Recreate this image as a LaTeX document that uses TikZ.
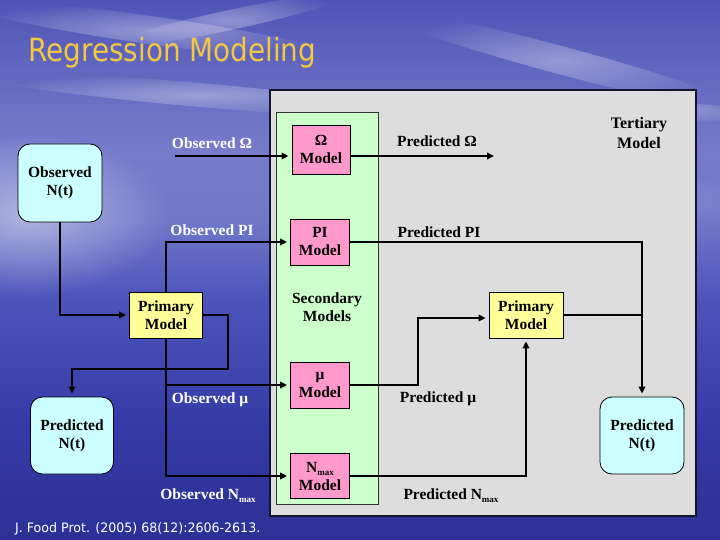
\documentclass[tikz,border=0pt]{standalone}
\usepackage{fontspec}
\setmainfont{Liberation Serif}
\newfontfamily\titlefont{DejaVu Sans}
\usetikzlibrary{arrows.meta,calc,fadings}

\definecolor{skyA}{RGB}{80,84,182}
\definecolor{skyB}{RGB}{118,124,202}
\definecolor{skyC}{RGB}{112,120,200}
\definecolor{seaA}{RGB}{76,84,188}
\definecolor{seaB}{RGB}{52,58,165}
\definecolor{seaC}{RGB}{44,48,150}
\definecolor{panelgray}{RGB}{221,221,221}
\definecolor{panelgreen}{RGB}{204,255,204}
\definecolor{boxpink}{RGB}{255,153,204}
\definecolor{boxyellow}{RGB}{255,255,153}
\definecolor{boxcyan}{RGB}{204,255,255}
\definecolor{titlegold}{RGB}{242,200,64}
\definecolor{panelborder}{RGB}{20,20,50}

\tikzfading[name=softfade, inner color=transparent!0, outer color=transparent!100]

\tikzset{
  lbl/.style={font=\bfseries\fontsize{15.5}{18}\selectfont, align=center, inner sep=0pt},
  wlbl/.style={lbl, text=white},
  boxbase/.style={draw=black, line width=0.8pt, align=center, inner sep=0pt,
    font=\bfseries\fontsize{15.5}{18}\selectfont},
  pinkbox/.style={boxbase, fill=boxpink, minimum width=59pt, minimum height=46pt},
  yelbox/.style={boxbase, fill=boxyellow, minimum width=74pt, minimum height=46pt},
  cyanbox/.style={boxbase, fill=boxcyan, rounded corners=12pt, minimum width=84pt, minimum height=78pt},
  conn/.style={line width=2pt, -{Triangle[length=7pt,width=6.5pt]}, shorten >=3pt},
  plain/.style={line width=2pt},
  cloud/.style={fill=white, opacity=0.35, path fading=softfade, fit fading=true}
}

\begin{document}
\begin{tikzpicture}[x=1pt,y=-1pt]
\useasboundingbox (0,0) rectangle (720,540);
% background
\shade[top color=skyA, bottom color=skyB] (0,0) rectangle (720,150);
\shade[top color=skyB, bottom color=skyC] (0,150) rectangle (720,220);
\shade[top color=skyC, bottom color=seaA] (0,220) rectangle (720,300);
\shade[top color=seaA, bottom color=seaB] (0,300) rectangle (720,430);
\shade[top color=seaB, bottom color=seaC] (0,430) rectangle (720,540.5);
\fill[cloud, rotate around={-8:(150,30)}] (150,30) ellipse (190 and 14);
\fill[cloud, rotate around={12:(230,20)}] (230,20) ellipse (120 and 10);
\fill[cloud, rotate around={-15:(560,60)}] (560,60) ellipse (190 and 14);
\fill[cloud, rotate around={-5:(200,95)}] (200,95) ellipse (220 and 12);
\fill[cloud, rotate around={-3:(640,110)}] (640,110) ellipse (140 and 10);
\fill[cloud, opacity=0.45] (30,215) ellipse (140 and 80);
\fill[cloud, opacity=0.25] (520,200) ellipse (240 and 35);

% title and citation
\node[anchor=base west, text=titlegold] (title) at (25,62)
  {\titlefont\fontsize{32}{36}\selectfont\scalebox{0.87}[1]{Regression Modeling}};
\node[anchor=base west, text=white, inner sep=0pt] (cite) at (15,532)
  {\titlefont\fontsize{13}{15}\selectfont\scalebox{0.97}[1]{J. Food Prot. (2005) 68(12):2606-2613.}};

% panels
\draw[fill=panelgray, draw=panelborder, line width=1.2pt] (270,90) rectangle (696,516);
\draw[fill=panelgreen, draw=black!80, line width=0.8pt] (276,112) rectangle (378,504);

% boxes
\node[pinkbox, minimum width=58pt, minimum height=49pt] (om) at (321,149.5) {Ω\\Model};
\node[pinkbox] (pi) at (320,242) {PI\\Model};
\node[pinkbox] (mu) at (320,385) {μ\\Model};
\node[pinkbox, minimum height=45pt] (nmax) at (320,476)
  {N\raisebox{-3pt}{\fontsize{9}{9}\selectfont max}\\Model};
\node[lbl] (sec) at (327,307) {Secondary\\Models};
\node[lbl, font=\bfseries\fontsize{16}{20}\selectfont] (tert) at (639,133) {Tertiary\\Model};

\node[cyanbox] (obsN) at (60,183) {Observed\\N(t)};
\node[cyanbox, minimum width=83pt, minimum height=77pt] (predL) at (72,435.5) {Predicted\\N(t)};
\node[cyanbox, minimum height=77pt] (predR) at (642,435.5) {Predicted\\N(t)};
\node[yelbox, minimum width=73pt] (primL) at (166,315) {Primary\\Model};
\node[yelbox] (primR) at (526,315) {Primary\\Model};

% labels
\node[wlbl] (lOO) at (212,143) {Observed Ω};
\node[lbl] (lPO) at (437,141) {Predicted Ω};
\node[wlbl] (lOPI) at (212,230) {Observed PI};
\node[lbl] (lPPI) at (439,232) {Predicted PI};
\node[wlbl] (lOmu) at (210,400) {Observed μ};
\node[lbl] (lPmu) at (438,399) {Predicted μ};
\node[wlbl] (lON) at (208,496) {Observed N\raisebox{-3pt}{\fontsize{9}{9}\selectfont max}};
\node[lbl] (lPN) at (451,496) {Predicted N\raisebox{-3pt}{\fontsize{9}{9}\selectfont max}};

% connectors
\coordinate (oOm) at (175,156);
\coordinate (pOm) at (497,156);
\coordinate (k1) at (228,369);
\coordinate (k2) at (418,318);
\draw[conn] (oOm) -- (oOm -| om.west);
\draw[conn] (oOm -| om.east) -- (pOm);
\draw[conn] (primL.north) |- (pi.west);
\draw[conn] (pi.east) -| (predR.north);
\draw[plain] (primR.east) -- (primR.east -| predR.north);
\draw[conn] (obsN.south) |- (primL.west);
\draw[conn] (primL.east) -| (k1) -| (predL.north);
\draw[conn] (primL.south) |- (mu.west);
\draw[conn] (primL.south) |- (nmax.west);
\draw[conn] (mu.east) -| (k2) -- (k2 -| primR.west);
\draw[conn] (nmax.east) -| (primR.south);
\end{tikzpicture}
\end{document}
